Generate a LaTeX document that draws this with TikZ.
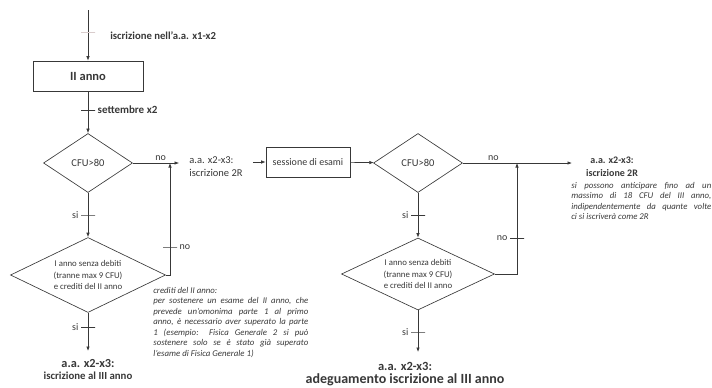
\documentclass[tikz,border=0pt]{standalone}
\usepackage{fontspec}
\setmainfont{Carlito}
\usetikzlibrary{shapes.geometric, arrows.meta, calc, positioning}
\definecolor{linegray}{rgb}{0.22, 0.22, 0.22}
\definecolor{faintgray}{rgb}{0.85, 0.8, 0.8}

\begin{document}
\begin{tikzpicture}[x=1pt, y=-1pt, >={Latex[length=4.5pt,width=3.5pt]}, line width=0.65pt, color=linegray]
    \tikzstyle{stepbox}=[rectangle, draw, minimum height=30pt, inner sep=0pt]
    \tikzstyle{check}=[diamond, draw, inner sep=0pt]
    \tikzstyle{checktext}=[align=center, font=\fontsize{8.8}{11.5}\selectfont]
    \tikzstyle{crossmark}=[rectangle, draw, minimum width=14pt, minimum height=0pt, inner sep=0pt]
    \tikzstyle{lab}=[font=\fontsize{10}{12}\selectfont, inner sep=2pt]
    \tikzstyle{boldlab}=[font=\fontsize{11}{12}\selectfont\bfseries, inner sep=2pt]
    \tikzstyle{result}=[align=center, font=\fontsize{12}{12.5}\selectfont\bfseries, inner sep=2pt]
    \tikzstyle{note}=[align=justify, font=\fontsize{8.8}{10.5}\selectfont\itshape, inner sep=0pt]

    \useasboundingbox (0,0) rectangle (712,388);

    % Left column: II anno
    \coordinate (start) at (88,10);
    \node (iscr)[boldlab, font=\fontsize{10.7}{12}\selectfont\bfseries, anchor=west] at (108,36) {iscrizione nell'a.a. x1-x2};
    \node (anno2)[stepbox, minimum width=110pt, font=\fontsize{12.5}{14}\selectfont\bfseries] at (88,76) {II anno};
    \node (cfu1)[check, minimum width=89pt, minimum height=59pt] at (88,163) {};
    \node at (cfu1) [checktext, font=\fontsize{10.5}{12}\selectfont] {CFU>80};
    \node (senza1)[check, minimum width=155pt, minimum height=75pt] at (88,275) {};
    \node at (senza1) [checktext] {I anno senza debiti\\(tranne max 9 CFU)\\e crediti del II anno};
    \node (r3)[result, anchor=north, inner ysep=8pt] at (88,351)
        {{\fontsize{12.3}{12}\selectfont a.a. x2-x3:}\\{\fontsize{10.8}{12}\selectfont iscrizione al III anno}};

    % Note on the credits
    \node (note1)[note, text width=155pt, anchor=north west] at (153,287) {%
        crediti del II anno:\\
        per sostenere un esame del II anno, che\linebreak
        prevede un'omonima parte 1 al primo\linebreak
        anno, è necessario aver superato la parte\linebreak
        1 (esempio: Fisica Generale 2 si può\linebreak
        sostenere solo se è stato già superato\linebreak
        l'esame di Fisica Generale 1)};

    % Middle: 2R and exam session
    \node (r2a)[lab, align=left, inner xsep=10pt, font=\fontsize{10.5}{13}\selectfont] at (216,167) {a.a. x2-x3:\\iscrizione 2R};
    \node (esami)[stepbox, minimum width=84pt, font=\fontsize{10}{12}\selectfont] at (308,162) {sessione di esami};
    \coordinate (j1) at (170,163);

    % Right column: second check
    \node (cfu2)[check, minimum width=89pt, minimum height=59pt] at (418,163) {};
    \node at (cfu2) [checktext, font=\fontsize{10.5}{12}\selectfont] {CFU>80};
    \node (senza2)[check, minimum width=153pt, minimum height=72pt] at (418,274) {};
    \node at (senza2) [checktext] {I anno senza debiti\\(tranne max 9 CFU)\\e crediti del II anno};
    \node (r4)[result, anchor=north, inner ysep=10pt] at (405,352)
        {{\fontsize{12.5}{12}\selectfont a.a. x2-x3:}\\{\fontsize{14}{12}\selectfont adeguamento iscrizione al III anno}};
    \coordinate (j2) at (517,163);
    \coordinate (e2) at (572,163);

    % Final 2R
    \node (r2b)[result, font=\fontsize{10}{13}\selectfont\bfseries] at (612,167) {a.a. x2-x3:\\iscrizione 2R};
    \node (note2)[note, text width=140pt, anchor=north west] at (571,182) {%
        si possono anticipare fino ad un\linebreak
        massimo di 18 CFU del III anno,\linebreak
        indipendentemente da quante volte\linebreak
        ci si iscriverà come 2R};

    % Connectors, left column
    \draw[->] (start) -- node[crossmark, pos=0.45, draw=faintgray]{} (anno2);
    \draw[->] (anno2) -- node[crossmark, pos=0.45, label={[boldlab]right:settembre x2}]{} (cfu1);
    \draw[->] (cfu1) -- node[crossmark, pos=0.5, label={[lab]left:si}]{} (senza1);
    \draw[->] (senza1) -- node[crossmark, pos=0.37, label={[lab]left:si}]{} (r3);
    \draw[->] (cfu1.east) -- node[lab, above, pos=0.6]{no} (cfu1.east -| r2a.west);
    \draw[->] (senza1.east) -| node[crossmark, pos=0.625, label={[lab]right:no}]{} (j1);

    % Connectors, middle
    \draw[->] (r2a.east |- esami) -- (esami);
    \draw[->] (esami) -- (cfu2);

    % Connectors, right column
    \draw[->] (cfu2) -- node[crossmark, pos=0.5, label={[lab]left:si}]{} (senza2);
    \draw[->] (senza2) -- node[crossmark, pos=0.52, label={[lab]left:si}]{} (senza2 |- r4.north);
    \draw[->] (cfu2.east) -- node[lab, above, pos=0.28]{no} (e2);
    \draw[->] (senza2.east) -| node[crossmark, pos=0.66, label={[lab]left:no}]{} (j2);
\end{tikzpicture}
\end{document}
